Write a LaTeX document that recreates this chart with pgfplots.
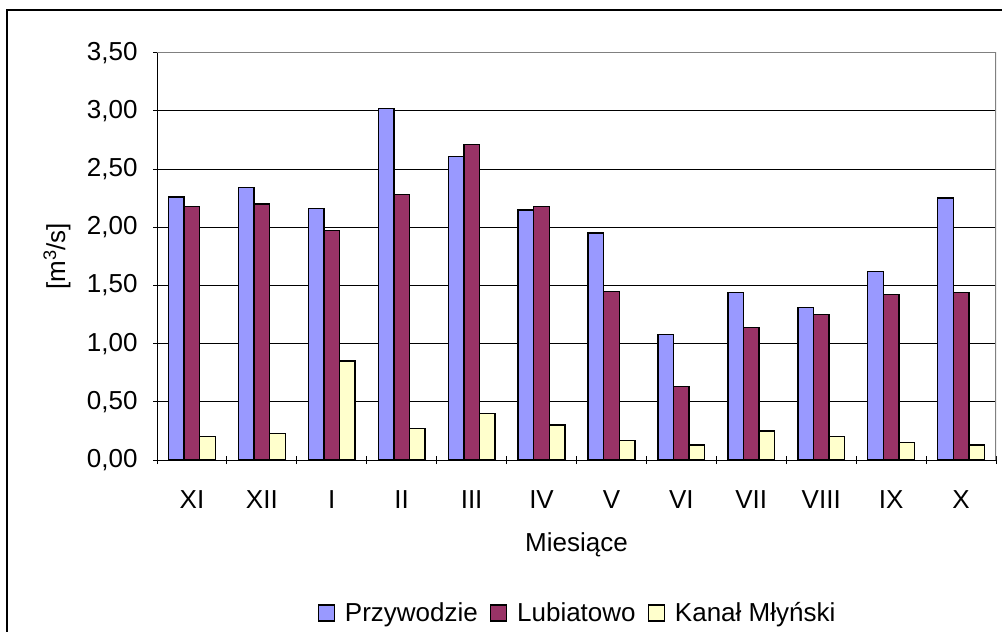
\documentclass[border=0pt]{standalone}
\usepackage{pgfplots}
\pgfplotsset{compat=1.18}
\usepackage{fontspec}
\setmainfont{Liberation Sans}
\definecolor{cblue}{HTML}{9999FF}
\definecolor{cred}{HTML}{993366}
\definecolor{cyel}{HTML}{FFFFCC}
\begin{document}
\begin{tikzpicture}[font=\fontsize{26}{31}\selectfont]
\useasboundingbox (0,0) rectangle (1002pt,-632pt);
\draw[black, line width=1.3pt] (7pt,-10pt) rectangle (1012pt,-645pt);
\begin{axis}[
  at={(157pt,-460pt)}, anchor=south west,
  scale only axis, width=839pt, height=407.3pt,
  ybar=0pt, bar width=15.6pt,
  xmin=-0.5, xmax=11.5, ymin=0, ymax=3.5,
  xtick={0,...,11},
  xticklabels={XI,XII,I,II,III,IV,V,VI,VII,VIII,IX,X},
  minor xtick={-0.5,0.5,...,11.5},
  major x tick style={draw=none},
  minor x tick style={black, line width=0.9pt},
  minor tick length=8pt,
  ytick={0,0.5,...,3.5},
  y tick style={black, line width=0.9pt},
  major tick length=8pt,
  tick align=outside,
  tick pos=left,
  axis lines=left,
  axis line style={-, black, line width=0.9pt},
  ymajorgrids, major grid style={black, line width=0.9pt},
  /pgf/number format/.cd, fixed, fixed zerofill, precision=2, use comma, assume math mode=true,
  /pgfplots/.cd,
  xticklabel style={anchor=base, yshift=-44pt},
  yticklabel style={anchor=east, xshift=-12pt},
  ylabel={[m\textsuperscript{3}/s]},
  ylabel style={at={(axis description cs:-0.1192,0.5)}, anchor=center},
  xlabel={Miesiące},
  xlabel style={at={(axis description cs:0.5,-0.2087)}, anchor=center},
  legend columns=3,
  legend style={draw=none, fill=none, at={(0.5,-0.3757)}, anchor=center,
    nodes={inner sep=0pt},
    /tikz/every odd column/.append style={column sep=10pt},
    /tikz/every even column/.append style={column sep=12pt}},
  legend image code/.code={\draw[#1, line width=1.3pt] (0pt,-8pt) rectangle (16pt,8pt);},
  every axis plot/.append style={draw=black, line width=1.4pt},
]
\addplot[fill=cblue] coordinates {(0,2.26) (1,2.34) (2,2.16) (3,3.02) (4,2.61) (5,2.15) (6,1.95) (7,1.08) (8,1.44) (9,1.31) (10,1.62) (11,2.25)};
\addplot[fill=cred] coordinates {(0,2.18) (1,2.20) (2,1.97) (3,2.28) (4,2.71) (5,2.18) (6,1.45) (7,0.63) (8,1.14) (9,1.25) (10,1.42) (11,1.44)};
\addplot[fill=cyel] coordinates {(0,0.20) (1,0.23) (2,0.85) (3,0.27) (4,0.40) (5,0.30) (6,0.17) (7,0.13) (8,0.25) (9,0.20) (10,0.15) (11,0.13)};
\legend{Przywodzie, Lubiatowo, Kanał Młyński}
\draw[gray, line width=1.2pt] (rel axis cs:0,1) -- (rel axis cs:1,1) -- (rel axis cs:1,0);
\end{axis}
\end{tikzpicture}
\end{document}
